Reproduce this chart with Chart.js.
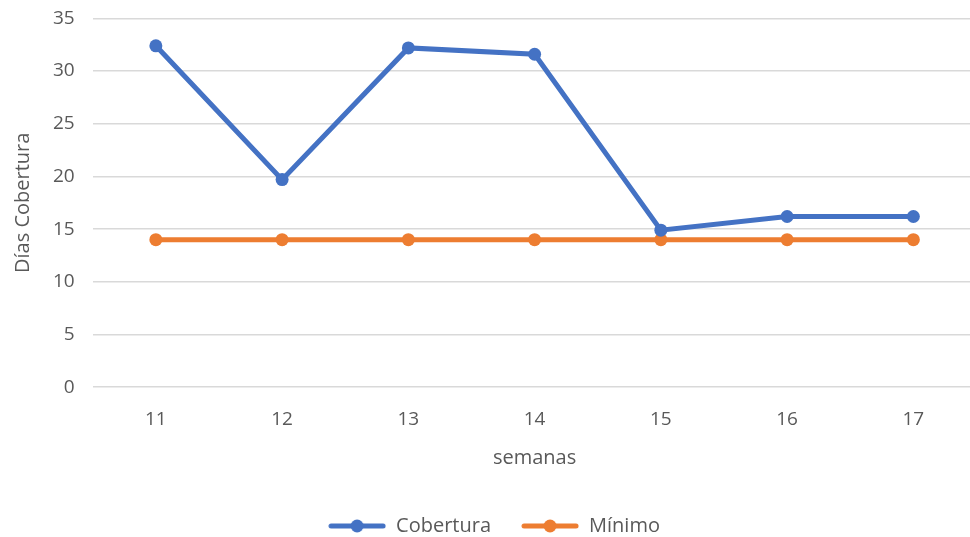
<!DOCTYPE html>
<html lang="es">
<head>
<meta charset="UTF-8">
<title>Días Cobertura</title>
<style>
  html, body { margin: 0; padding: 0; background: #fff; overflow: hidden; }
  #wrap { width: 983px; height: 557px; margin-top: -11px; }
</style>
</head>
<body>
<div id="wrap"><canvas id="myChart"></canvas></div>

<script src="https://cdn.jsdelivr.net/npm/chart.js"></script>
<script>
// datos
const semanas = ["11", "12", "13", "14", "15", "16", "17"];
const cobertura = [32.4, 19.7, 32.2, 31.6, 14.9, 16.2, 16.2];
const minimo = [14, 14, 14, 14, 14, 14, 14];
const yTicks = [0, 5, 10, 15, 20, 25, 30, 35];

const azul = "#4472C4";
const naranja = "#ED7D31";
const gris = "#595959";
const fuente = "'Open Sans', 'Noto Sans', sans-serif";

// icono de leyenda: linea con punto
function iconoLinea(color) {
    const c = document.createElement("canvas");
    c.width = 58; c.height = 14;
    const g = c.getContext("2d");
    g.strokeStyle = color;
    g.lineWidth = 5;
    g.lineCap = "round";
    g.beginPath(); g.moveTo(3, 7); g.lineTo(55, 7); g.stroke();
    g.fillStyle = color;
    g.beginPath(); g.arc(29, 7, 6.5, 0, Math.PI * 2); g.fill();
    return c;
}

const ctx = document.getElementById("myChart");
new Chart(ctx, {
    type: "line",
    data: {
        labels: semanas,
        datasets: [{
            label: "Cobertura",
            data: cobertura,
            borderColor: azul,
            backgroundColor: azul,
            borderWidth: 5,
            pointRadius: 6.5,
            pointBorderWidth: 0,
            pointHoverRadius: 6.5,
            tension: 0
        }, {
            label: "Mínimo",
            data: minimo,
            borderColor: naranja,
            backgroundColor: naranja,
            borderWidth: 5,
            pointRadius: 6.5,
            pointBorderWidth: 0,
            pointHoverRadius: 6.5,
            tension: 0
        }]
    },
    options: {
        responsive: true,
        maintainAspectRatio: false,
        animation: false,
        layout: { padding: { top: 6, right: 0, bottom: 0, left: 5 } },
        scales: {
            x: {
                offset: true,
                grid: { display: false },
                border: { display: false },
                ticks: { color: gris, font: { family: fuente, size: 19 }, padding: 13 },
                title: {
                    display: true, text: "semanas", color: gris,
                    font: { family: fuente, size: 20 }, padding: { top: 2, bottom: 16 }
                }
            },
            y: {
                min: 0, max: 35,
                afterBuildTicks: s => { s.ticks = yTicks.map(v => ({ value: v })); },
                grid: { color: "#D9D9D9", lineWidth: 1.5, drawTicks: false },
                border: { display: false },
                ticks: { color: gris, font: { family: fuente, size: 19 }, padding: 18 },
                title: {
                    display: true, text: "Días Cobertura", color: gris,
                    font: { family: fuente, size: 20 }, padding: { top: 6, bottom: 0 }
                }
            }
        },
        plugins: {
            tooltip: { enabled: false },
            legend: {
                position: "bottom",
                labels: {
                    color: gris,
                    font: { family: fuente, size: 20 },
                    usePointStyle: true,
                    pointStyleWidth: 58,
                    padding: 30,
                    generateLabels: chart => chart.data.datasets.map((d, i) => ({
                        text: d.label,
                        fontColor: gris,
                        pointStyle: iconoLinea(d.borderColor),
                        datasetIndex: i,
                        hidden: false,
                        lineWidth: 0
                    }))
                }
            }
        }
    }
});
</script>
</body>
</html>
